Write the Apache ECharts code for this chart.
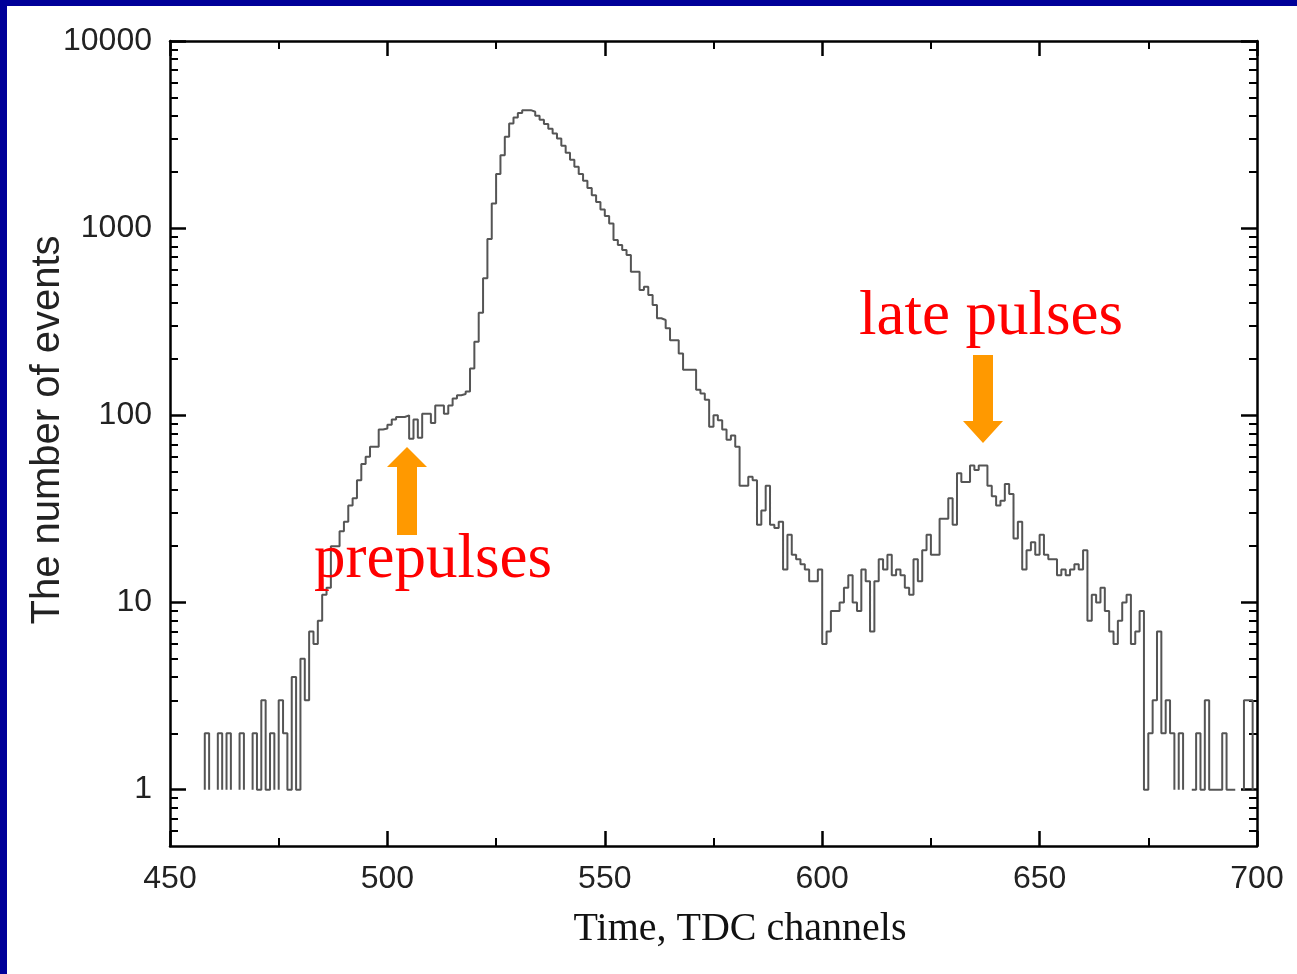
<!DOCTYPE html>
<html>
<head>
<meta charset="utf-8">
<script src="https://cdn.jsdelivr.net/npm/echarts@6/dist/echarts.min.js"></script>
<style>
  html, body { margin: 0; padding: 0; background: #fff; }
  #chart { width: 1297px; height: 974px; }
</style>
</head>
<body>
<div id="chart"></div>
<script>
// TDC histogram, one bin per channel starting at firstChannel (0 = empty bin)
const firstChannel = 457;
const counts = [
  0, 2, 0, 0, 2, 0, 2, 0, 0, 2,          // 457-466
  0, 0, 2, 1, 3, 1, 2, 0, 3, 2,          // 467-476
  1, 4, 1, 5, 3, 7, 6, 8, 11, 12,        // 477-486
  20, 20, 24, 27, 33, 36, 45, 55, 60, 68, // 487-496
  68, 84, 85, 89, 95, 98, 98, 100, 75, 95, // 497-506
  76, 102, 102, 91, 113, 113, 102, 113, 123, 128, // 507-516
  130, 134, 178, 247, 353, 540, 875, 1355, 1945, 2455, // 517-526
  3075, 3625, 3900, 4130, 4270, 4270, 4190, 3990, 3800, 3600, // 527-536
  3400, 3200, 3010, 2760, 2530, 2320, 2130, 1950, 1790, 1640, // 537-546
  1500, 1380, 1260, 1160, 1060, 864, 812, 764, 718, 585, // 547-556
  585, 467, 487, 439, 388, 330, 323, 292, 252, 252, // 557-566
  214, 175, 175, 175, 137, 131, 121, 87, 100, 94,  // 567-576
  84, 74, 78, 68, 42, 42, 47, 45, 26, 31,          // 577-586
  42, 26, 25, 27, 15, 23, 18, 17, 16, 15,          // 587-596
  13, 13, 15, 6, 7, 9, 9, 10, 12, 14,              // 597-606
  10, 9, 15, 13, 7, 13, 17, 15, 18, 14,            // 607-616
  15, 14, 12, 11, 17, 13, 19, 23, 18, 18,          // 617-626
  28, 28, 36, 26, 49, 44, 44, 54, 51, 54,          // 627-636
  54, 42, 37, 33, 35, 43, 38, 22, 27, 15,          // 637-646
  19, 21, 18, 23, 18, 17, 17, 14, 15, 14,          // 647-656
  15, 16, 15, 19, 8, 11, 10, 12, 9, 7,             // 657-666
  6, 8, 10, 11, 6, 7, 9, 1, 2, 3,                  // 667-676
  7, 2, 3, 2, 0, 2, 0, 0, 1, 2,                    // 677-686
  1, 3, 1, 1, 1, 2, 1, 1, 0, 0,                    // 687-696
  3, 3, 0                                          // 697-699
];

const xTicks = [450, 500, 550, 600, 650, 700];
const yMajor = [1, 10, 100, 1000, 10000];
const yMinor = [0.6, 0.7, 0.8, 0.9,
  2, 3, 4, 5, 6, 7, 8, 9,
  20, 30, 40, 50, 60, 70, 80, 90,
  200, 300, 400, 500, 600, 700, 800, 900,
  2000, 3000, 4000, 5000, 6000, 7000, 8000, 9000];

// step outline: each run of non-empty bins closes down to 1 at its ends
function buildSteps() {
  const pts = [];
  let i = 0;
  while (i < counts.length) {
    if (!counts[i]) { i++; continue; }
    pts.push([firstChannel + i, 1]);
    while (i < counts.length && counts[i]) {
      const ch = firstChannel + i;
      pts.push([ch, counts[i]], [ch + 1, counts[i]]);
      i++;
    }
    pts.push([firstChannel + i, 1], [firstChannel + i, '-']);
  }
  return pts;
}

const black = '#000';
const labelFont = { fontFamily: 'Liberation Sans', fontSize: 32, color: '#222' };

function xAxisOf(position, showLabels) {
  return {
    type: 'value', position, min: 450, max: 700, interval: 50,
    axisLine: { lineStyle: { color: black, width: 2.5 } },
    axisTick: { inside: true, length: 15, lineStyle: { color: black, width: 2.5 } },
    minorTick: { show: true, splitNumber: 2, length: 8, lineStyle: { color: black, width: 2 } },
    axisLabel: showLabels
      ? { ...labelFont, margin: 17, customValues: xTicks }
      : { show: false },
    splitLine: { show: false },
  };
}

function yAxisOf(position, ticks, len, major, showLabels) {
  return {
    type: 'log', logBase: 10, position, min: 0.5, max: 10000,
    axisLine: { show: major, lineStyle: { color: black, width: 2.5 } },
    axisTick: { inside: true, length: len, customValues: ticks, lineStyle: { color: black, width: major ? 2.5 : 2 } },
    axisLabel: showLabels
      ? { ...labelFont, margin: 18, customValues: ticks, formatter: v => String(Math.round(v)) }
      : { show: false },
    splitLine: { show: false },
  };
}

const chart = echarts.init(document.getElementById('chart'), null, { renderer: 'canvas' });

chart.setOption({
  animation: false,
  backgroundColor: '#fff',
  grid: { left: 170, top: 41, width: 1087, height: 805, outerBoundsMode: 'none' },
  xAxis: [xAxisOf('bottom', true), xAxisOf('top', false)],
  yAxis: [
    yAxisOf('left', yMajor, 16, true, true),
    yAxisOf('left', yMinor, 8, false, false),
    yAxisOf('right', yMajor, 16, true, false),
    yAxisOf('right', yMinor, 8, false, false),
  ],
  series: [{
    type: 'line',
    xAxisIndex: 0,
    yAxisIndex: 0,
    data: buildSteps(),
    symbol: 'none',
    connectNulls: false,
    lineStyle: { color: '#555', width: 2 },
  }],
  graphic: [
    // blue slide frame
    { type: 'rect', left: 0, top: 0, z: 100, shape: { width: 1297, height: 6 }, style: { fill: '#000099' } },
    { type: 'rect', left: 0, top: 0, z: 100, shape: { width: 7, height: 974 }, style: { fill: '#000099' } },
    // axis titles
    {
      type: 'text', z: 60, x: 48, y: 430, rotation: Math.PI / 2,
      style: { text: 'The number of events', fontFamily: 'Liberation Sans', fontSize: 40, fill: '#222', align: 'center', verticalAlign: 'middle' },
    },
    {
      type: 'text', z: 60, x: 740, y: 929,
      style: { text: 'Time, TDC channels', fontFamily: 'Liberation Serif', fontSize: 40, fill: '#111', align: 'center', verticalAlign: 'middle' },
    },
    // arrows
    {
      type: 'polygon', z: 50,
      shape: { points: [[397, 535], [397, 467], [387, 467], [407, 447], [427, 467], [417, 467], [417, 535]] },
      style: { fill: '#ff9900' },
    },
    {
      type: 'polygon', z: 50,
      shape: { points: [[973, 355], [973, 421], [963, 421], [983, 443], [1003, 421], [993, 421], [993, 355]] },
      style: { fill: '#ff9900' },
    },
    {
      type: 'text', z: 60, x: 991, y: 317,
      style: { text: 'late pulses', fontFamily: 'Liberation Serif', fontSize: 63, fill: '#ff0000', align: 'center', verticalAlign: 'middle' },
    },
    {
      type: 'text', z: 60, x: 433, y: 560,
      style: { text: 'prepulses', fontFamily: 'Liberation Serif', fontSize: 63, fill: '#ff0000', align: 'center', verticalAlign: 'middle' },
    },
  ],
});
</script>
</body>
</html>
